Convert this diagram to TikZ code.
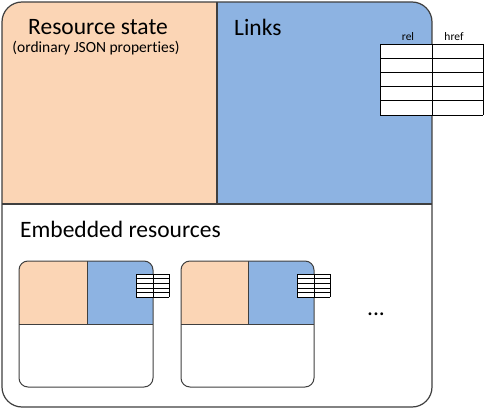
\documentclass[tikz,border=0pt]{standalone}
\usepackage{fontspec}
\setmainfont{Carlito}[Ligatures={NoCommon}]
\definecolor{statecol}{HTML}{FBD5B5}
\definecolor{linkcol}{HTML}{8DB3E2}
\definecolor{edgecol}{HTML}{3F3F3F}
\begin{document}
\begin{tikzpicture}[x=1pt, y=-1pt]
\tikzset{ edge/.style={draw=edgecol, line width=1.2pt},
          grid/.style={draw=black, line width=0.9pt},
          big/.style={font=\fontsize{23.5}{28}\selectfont, inner sep=0pt},
          small/.style={font=\fontsize{15.5}{18}\selectfont, inner sep=0pt},
          tiny/.style={font=\fontsize{11.5}{14}\selectfont, inner sep=0pt} }
\useasboundingbox (0,0) rectangle (485,409);

% outer resource
\begin{scope}
\clip [rounded corners=20pt] (2,2) rectangle (432,407);
\fill [statecol] (2,2) rectangle (217,204);
\fill [linkcol] (217,2) rectangle (432,204);
\end{scope}
\draw [edge] (217,2) -- (217,204);
\draw [edge] (2,204) -- (432,204);
\draw [edge, rounded corners=20pt] (2,2) rectangle (432,407);

% links table
\fill [white] (380,44) rectangle (483,115);
\foreach \i in {0,...,5}
  \draw [grid] (380,44+\i*14.2) -- (483,44+\i*14.2);
\foreach \x in {380,432,483}
  \draw [grid] (\x,44) -- (\x,115);

\node [big]   (RS) at (98,27)  {Resource state};
\node [small] (OJ) at (96,48)  {(ordinary JSON properties)};
\node [big, anchor=west] (LK) at (234,27) {Links};
\node [tiny]  (REL) at (408,37) {rel};
\node [tiny]  (HREF) at (454,37) {href};
\node [big, anchor=west] (ER) at (20,229) {Embedded resources};

% embedded resources
\foreach \l/\m/\r in {19/87/153, 181/248/314} {
  \begin{scope}
  \clip [rounded corners=9pt] (\l,261) rectangle (\r,387);
  \fill [statecol] (\l,261) rectangle (\m,324);
  \fill [linkcol] (\m,261) rectangle (\r,324);
  \end{scope}
  \draw [edge, line width=1pt] (\m,261) -- (\m,324);
  \draw [edge, line width=1pt] (\l,324) -- (\r,324);
  \draw [edge, line width=1pt, rounded corners=9pt] (\l,261) rectangle (\r,387);
  \fill [white] (\r-17,274) rectangle (\r+16,297);
  \foreach \i in {0,...,5}
    \draw [grid, line width=0.6pt] (\r-17,274+\i*4.6) -- (\r+16,274+\i*4.6);
  \foreach \x in {-17,0,16}
    \draw [grid, line width=0.6pt] (\r+\x,274) -- (\r+\x,297);
}

\node [big] (DOTS) at (376,314) {...};

\end{tikzpicture}
\end{document}
